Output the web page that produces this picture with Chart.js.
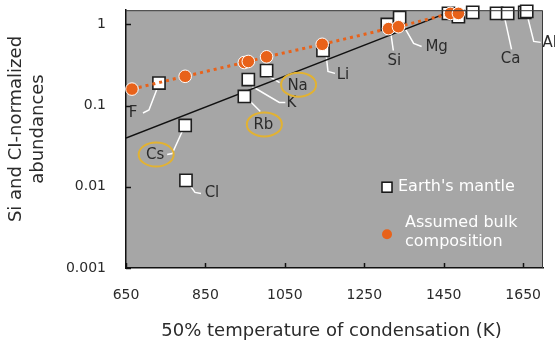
<!DOCTYPE html>
<html><head><meta charset="utf-8">
<script src="https://cdn.jsdelivr.net/npm/chart.js@4.4.1/dist/chart.umd.min.js"></script>
<style>html,body{margin:0;padding:0;background:#fff;overflow:hidden}#wrap{width:555px;height:341px}</style>
</head><body><div id="wrap"><canvas id="c" width="555" height="341"></canvas></div>
<script>
// ---- data ----
const mantleElements = ['F','Cs','Cl','Rb','K','Na','Li','Si','Mg','','','','Ca','','Al',''];
const mantleTemp  = [733, 799, 801, 948, 958, 1004, 1146, 1308, 1339, 1462, 1487, 1523, 1583, 1611, 1654, 1659];
const mantleAbund = [0.19, 0.057, 0.012, 0.13, 0.21, 0.27, 0.48, 1.0, 1.22, 1.37, 1.25, 1.41, 1.37, 1.37, 1.41, 1.45];
const bulkTemp  = [665, 799, 948, 958, 1004, 1144, 1311, 1336, 1467, 1487];
const bulkAbund = [0.16, 0.23, 0.34, 0.35, 0.40, 0.57, 0.89, 0.94, 1.37, 1.37];
const trendTemp  = [650, 1462];
const trendAbund = [0.04, 1.41];
const xTicks = [650, 850, 1050, 1250, 1450, 1650];
const yTicks = [0.001, 0.01, 0.1, 1];
const yTickLabels = ['0.001', '0.01', '0.1', '1'];
const circledElements = ['Cs', 'Rb', 'Na'];
const seriesNames = ["Earth's mantle", 'Assumed bulk composition'];
const legendLines = ['Assumed bulk', 'composition'];
const xTitle = '50% temperature of condensation (K)';
const yTitleLines = ['Si and CI-normalized', 'abundances'];

// ---- styling / label placement (pixel offsets from each point) ----
const FONT = "'DejaVu Sans', sans-serif";
const ORANGE = '#e8621a';
const labelLayout = {
  F:  {label: [-26, 30], leader: [[-2, 6], [-10, 27], [-16, 30]]},
  Cs: {label: [-30, 30], leader: [[-3, 6], [-13, 28], [-18, 29]]},
  Cl: {label: [26, 13],  leader: [[4, 5], [9, 12], [15, 13]]},
  Rb: {label: [19, 29],  leader: [[6, 5], [16, 15]]},
  K:  {label: [43, 24],  leader: [[4, 7], [31, 23], [37, 23]]},
  Na: {label: [31, 15],  leader: [[3, 6], [13, 12]]},
  Li: {label: [20, 25],  leader: [[3, 3], [5, 21], [12, 23]]},
  Si: {label: [7, 37],   leader: [[3, 5], [6, 26]]},
  Mg: {label: [37, 30],  leader: [[6, 12], [14, 26], [22, 29]]},
  Ca: {label: [14, 46],  leader: [[8, 4], [15, 36]]},
  Al: {label: [25, 31],  leader: [[3, 5], [9, 29], [16, 30]]}
};

const pts = (xs, ys) => xs.map((x, i) => ({x: x, y: ys[i]}));

const decorPlugin = {
  id: 'decor',
  beforeDraw(chart) {
    const {ctx, chartArea: a} = chart;
    ctx.save();
    ctx.fillStyle = '#fff';
    ctx.fillRect(0, 0, chart.width, chart.height);
    ctx.fillStyle = '#a6a6a6';
    ctx.fillRect(a.left, a.top, a.right - a.left, a.bottom - a.top);
    ctx.restore();
  },
  beforeDatasetsDraw(chart) {
    const {ctx} = chart;
    const xs = chart.scales.x, ys = chart.scales.y;
    ctx.save();
    ctx.strokeStyle = '#ffffff';
    ctx.lineWidth = 1.5;
    mantleElements.forEach((el, i) => {
      const L = labelLayout[el];
      if (!el || !L) return;
      const px = xs.getPixelForValue(mantleTemp[i]);
      const py = ys.getPixelForValue(mantleAbund[i]);
      ctx.beginPath();
      L.leader.forEach((p, k) => {
        if (k === 0) ctx.moveTo(px + p[0], py + p[1]); else ctx.lineTo(px + p[0], py + p[1]);
      });
      ctx.stroke();
    });
    ctx.restore();
  },
  afterDatasetsDraw(chart) {
    const {ctx, chartArea: a} = chart;
    const xs = chart.scales.x, ys = chart.scales.y;
    ctx.save();
    // top/right frame
    ctx.strokeStyle = '#3a3a3a';
    ctx.lineWidth = 1;
    ctx.beginPath();
    ctx.moveTo(a.left, a.top + 0.5); ctx.lineTo(a.right - 0.5, a.top + 0.5); ctx.lineTo(a.right - 0.5, a.bottom);
    ctx.stroke();
    // inward ticks
    ctx.strokeStyle = '#111';
    ctx.lineWidth = 1.5;
    xTicks.forEach(v => {
      const x = Math.round(xs.getPixelForValue(v)) + 0.5;
      ctx.beginPath(); ctx.moveTo(x, a.bottom); ctx.lineTo(x, a.bottom - 5); ctx.stroke();
    });
    yTicks.forEach(v => {
      const y = Math.round(ys.getPixelForValue(v)) + 0.5;
      ctx.beginPath(); ctx.moveTo(a.left, y); ctx.lineTo(a.left + 5, y); ctx.stroke();
    });
    // element labels + ellipses
    ctx.font = '15px ' + FONT;
    ctx.textAlign = 'center';
    ctx.textBaseline = 'middle';
    mantleElements.forEach((el, i) => {
      const L = labelLayout[el];
      if (!el || !L) return;
      const px = xs.getPixelForValue(mantleTemp[i]);
      const py = ys.getPixelForValue(mantleAbund[i]);
      const lx = px + L.label[0], ly = py + L.label[1];
      ctx.fillStyle = '#2b2b2b';
      ctx.fillText(el, lx, ly);
      if (circledElements.includes(el)) {
        ctx.strokeStyle = '#e2b232';
        ctx.lineWidth = 2;
        ctx.beginPath();
        ctx.ellipse(lx + 1, ly - 1, 17.5, 12, 0, 0, Math.PI * 2);
        ctx.stroke();
      }
    });
    // legend (inside plot)
    const lgX = a.left + 261, lgY = a.top + 177;
    ctx.fillStyle = '#fff'; ctx.strokeStyle = '#111'; ctx.lineWidth = 1.5;
    ctx.fillRect(lgX - 5, lgY - 5, 10, 10); ctx.strokeRect(lgX - 5, lgY - 5, 10, 10);
    ctx.textAlign = 'left';
    ctx.font = '16px ' + FONT;
    ctx.fillStyle = '#ffffff';
    ctx.fillText(seriesNames[0], lgX + 11, lgY);
    const cy = lgY + 47;
    ctx.beginPath(); ctx.arc(lgX, cy, 5, 0, Math.PI * 2);
    ctx.fillStyle = ORANGE; ctx.fill();
    ctx.fillStyle = '#ffffff';
    ctx.fillText(legendLines[0], lgX + 18, cy - 11);
    ctx.fillText(legendLines[1], lgX + 18, cy + 8);
    // axis titles
    ctx.fillStyle = '#2b2b2b';
    ctx.font = '18px ' + FONT;
    ctx.textAlign = 'center';
    ctx.fillText(xTitle, (a.left + a.right) / 2 - 3, 331);
    ctx.save();
    ctx.translate(16, 129);
    ctx.rotate(-Math.PI / 2);
    ctx.fillText(yTitleLines[0], 0, 0);
    ctx.fillText(yTitleLines[1], 0, 22);
    ctx.restore();
    ctx.restore();
  }
};

new Chart(document.getElementById('c'), {
  type: 'scatter',
  data: {
    datasets: [
      {
        label: seriesNames[1],
        data: pts(bulkTemp, bulkAbund),
        showLine: true,
        borderColor: ORANGE,
        borderWidth: 3,
        borderDash: [3, 4],
        pointStyle: 'circle',
        pointRadius: 6.3,
        pointBackgroundColor: ORANGE,
        pointBorderColor: '#ffffff',
        pointBorderWidth: 1,
        clip: false,
        order: 0
      },
      {
        label: seriesNames[0],
        data: pts(mantleTemp, mantleAbund),
        showLine: false,
        pointStyle: 'rect',
        pointRadius: 8.6,
        pointBackgroundColor: '#ffffff',
        pointBorderColor: '#1e1e1e',
        pointBorderWidth: 1.6,
        clip: false,
        order: 1
      },
      {
        label: 'trend',
        data: pts(trendTemp, trendAbund),
        showLine: true,
        borderColor: '#111',
        borderWidth: 1.5,
        pointRadius: 0,
        order: 2
      }
    ]
  },
  options: {
    responsive: false,
    animation: false,
    devicePixelRatio: 1,
    layout: {padding: {top: 10, right: 12, left: 0, bottom: 0}},
    plugins: {legend: {display: false}, tooltip: {enabled: false}},
    scales: {
      x: {
        type: 'linear', min: 650, max: 1700,
        afterBuildTicks: s => { s.ticks = xTicks.map(v => ({value: v})); },
        afterFit: s => { s.height = 73; },
        grid: {display: false, drawTicks: true, tickLength: 19},
        border: {display: true, color: '#111', width: 1.5},
        ticks: {padding: 0, color: '#2b2b2b', font: {family: FONT, size: 14}, callback: v => String(v)}
      },
      y: {
        type: 'logarithmic', min: 0.001, max: 1.5,
        afterBuildTicks: s => { s.ticks = yTicks.map(v => ({value: v})); },
        afterFit: s => { s.width = 126; },
        grid: {display: false, drawTicks: true, tickLength: 20},
        border: {display: true, color: '#111', width: 1.5},
        ticks: {padding: 0, color: '#2b2b2b', font: {family: FONT, size: 14},
          callback: (v) => { const i = yTicks.findIndex(t => Math.abs(t - v) / t < 1e-6); return i >= 0 ? yTickLabels[i] : ''; }}
      }
    }
  },
  plugins: [decorPlugin]
});
</script>
</body></html>
